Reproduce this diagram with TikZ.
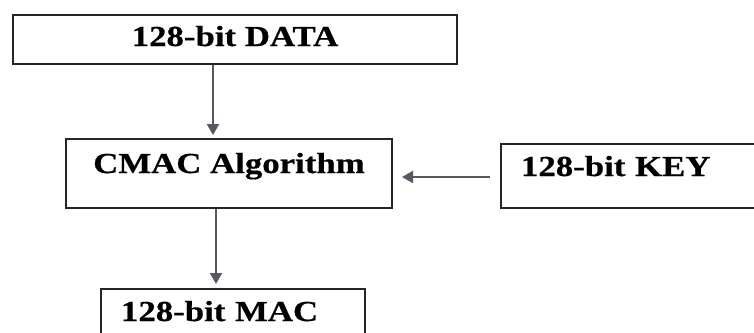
\documentclass[tikz,border=0pt]{standalone}
\usepackage{fontspec}
\usepackage{tikz}
\usetikzlibrary{arrows.meta}

\newfontfamily\boxfont[FakeStretch=1.2,FakeBold=0.6]{Liberation Serif}
\definecolor{linkgray}{RGB}{84,90,96}

\begin{document}
\begin{tikzpicture}
            [
                x=0.5pt, y=-0.5pt,
                blockbox/.style={draw=black!85, line width=1pt, inner ysep=0pt,
                    font=\boxfont\bfseries\fontsize{14.5}{16}\selectfont},
                flow/.style={draw=linkgray, line width=1pt},
                >={Triangle[width=6pt,length=5.5pt]}
            ]
            \clip (0,0) rectangle (754,332);

            % input data
            \node[blockbox, anchor=north west, minimum width=222pt,
                text height=15.5pt, text depth=9pt] (data) at (12,14) {128-bit DATA};

            % the algorithm
            \node[blockbox, anchor=north west, minimum width=163pt,
                text height=17pt, text depth=17.5pt] (cmac) at (65,138) {CMAC Algorithm};

            % key
            \node[blockbox, anchor=north west, inner xsep=10pt, text width=130pt, align=left,
                text height=16pt, text depth=16pt] (key) at (500,143) {128-bit KEY};

            % output
            \node[blockbox, anchor=north west, inner xsep=10pt, text width=112pt, align=left,
                text height=16pt, text depth=13pt] (mac) at (100,288) {128-bit MAC};

            \draw[flow, ->, shorten >=1.5pt] (213,0 |- data.south) -- (213,0 |- cmac.north);
            \draw[flow, ->, shorten <=5pt, shorten >=4.5pt] (key.west |- 0,177) -- (cmac.east |- 0,177);
            \draw[flow, ->, shorten >=2pt] (216,0 |- cmac.south) -- (216,0 |- mac.north);
        \end{tikzpicture}
\end{document}
